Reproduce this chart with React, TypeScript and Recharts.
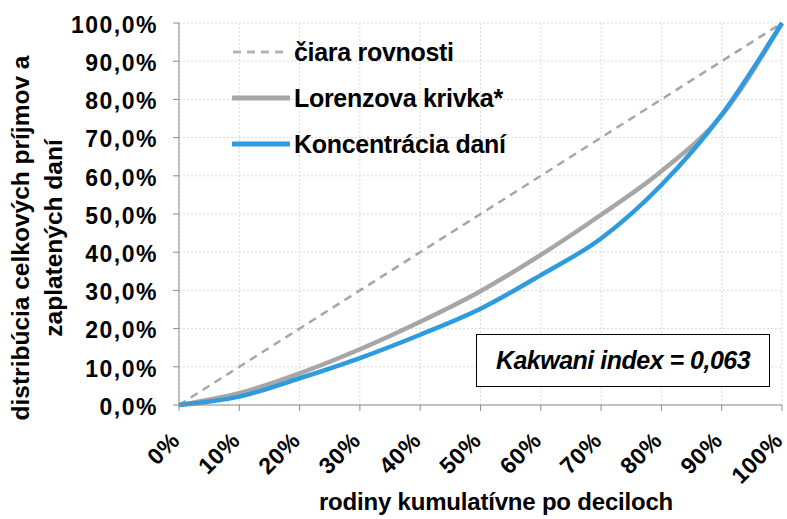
import { CartesianGrid, Line, LineChart, XAxis, YAxis } from "recharts";

const DECILES = [0, 10, 20, 30, 40, 50, 60, 70, 80, 90, 100];
const EQUALITY = [0, 10, 20, 30, 40, 50, 60, 70, 80, 90, 100];
const LORENZ = [0, 3.1, 8.3, 14.6, 21.8, 29.8, 39.3, 49.8, 61.2, 75.8, 100];
const TAX_CONCENTRATION = [0, 2.2, 7.0, 12.3, 18.4, 25.2, 34.0, 43.6, 57.6, 76.0, 100];
const Y_TICKS = [0, 10, 20, 30, 40, 50, 60, 70, 80, 90, 100];

const SERIES_NAMES = {
  equality: "čiara rovnosti",
  lorenz: "Lorenzova krivka*",
  tax: "Koncentrácia daní",
};

const GRAY = "#A6A6A6";
const BLUE = "#2F9BDF";
const AXIS = "#8C8C8C";
const FONT = '"Liberation Sans", Arial, sans-serif';

const data = DECILES.map((x, i) => ({
  x,
  equality: EQUALITY[i],
  lorenz: LORENZ[i],
  tax: TAX_CONCENTRATION[i],
}));

const legendItems = [
  { key: "equality", color: "#B4B4B4", dash: "8 6", width: 3 },
  { key: "lorenz", color: GRAY, dash: undefined, width: 5 },
  { key: "tax", color: BLUE, dash: undefined, width: 5 },
] as const;

function XTick({ x, y, payload }: any) {
  return (
    <text
      transform={`translate(${x + 2},${y + 29}) rotate(-45)`}
      textAnchor="end"
      fontFamily={FONT}
      fontWeight={700}
      fontSize={23}
      letterSpacing={0.5}
      fill="#000"
    >
      {`${payload.value}%`}
    </text>
  );
}

function YTick({ x, y, payload }: any) {
  return (
    <text
      x={x}
      y={y}
      dy="0.43em"
      textAnchor="end"
      fontFamily={FONT}
      fontWeight={700}
      fontSize={23}
      letterSpacing={1.5}
      fill="#000"
    >
      {`${payload.value.toFixed(1).replace(".", ",")}%`}
    </text>
  );
}

function LegendBox() {
  return (
    <div style={{ position: "absolute", left: 232, top: 29, fontFamily: FONT }}>
      {legendItems.map((item) => (
        <div key={item.key} style={{ display: "flex", alignItems: "center", height: 46 }}>
          <svg width={58} height={10} style={{ marginRight: 4 }}>
            <line
              x1={1}
              x2={57}
              y1={5}
              y2={5}
              stroke={item.color}
              strokeWidth={item.width}
              strokeDasharray={item.dash}
              strokeLinecap={item.dash ? "butt" : "round"}
            />
          </svg>
          <span style={{ fontWeight: 700, fontSize: 25, letterSpacing: -0.3, color: "#000" }}>
            {SERIES_NAMES[item.key]}
          </span>
        </div>
      ))}
    </div>
  );
}

export default function App() {
  return (
    <div style={{ position: "fixed", left: 0, top: 0, width: 787, height: 519, background: "#fff" }}>
      <LineChart width={787} height={519} data={data} margin={{ top: 23, right: 5, bottom: 0, left: 0 }}>
        <CartesianGrid stroke="#D9D9D9" strokeDasharray="2 2" />
        <XAxis
          type="number"
          dataKey="x"
          domain={[0, 100]}
          ticks={DECILES}
          interval={0}
          height={114}
          stroke={AXIS}
          tickSize={6}
          tick={<XTick />}
          label={{
            content: () => (
              <text
                x={496}
                y={510}
                textAnchor="middle"
                fontFamily={FONT}
                fontWeight={700}
                fontSize={24}
                letterSpacing={-0.2}
                fill="#000"
              >
                rodiny kumulatívne po deciloch
              </text>
            ),
          }}
        />
        <YAxis
          type="number"
          domain={[0, 100]}
          ticks={Y_TICKS}
          interval={0}
          width={179}
          stroke={AXIS}
          tickSize={6}
          tickMargin={15}
          tick={<YTick />}
          label={{
            content: () => (
              <g fontFamily={FONT} fontWeight={700} fontSize={24.5} fill="#000">
                <text transform="translate(29,238) rotate(-90)" textAnchor="middle">
                  distribúcia celkových príjmov a
                </text>
                <text transform="translate(62,238) rotate(-90)" textAnchor="middle">
                  zaplatených daní
                </text>
              </g>
            ),
          }}
        />
        <Line
          dataKey="equality"
          name={SERIES_NAMES.equality}
          type="linear"
          stroke={GRAY}
          strokeWidth={2.5}
          strokeDasharray="8 6"
          dot={false}
          activeDot={false}
          isAnimationActive={false}
        />
        <Line
          dataKey="lorenz"
          name={SERIES_NAMES.lorenz}
          type="monotone"
          stroke={GRAY}
          strokeWidth={4.5}
          dot={false}
          activeDot={false}
          isAnimationActive={false}
        />
        <Line
          dataKey="tax"
          name={SERIES_NAMES.tax}
          type="monotone"
          stroke={BLUE}
          strokeWidth={4.5}
          dot={false}
          activeDot={false}
          isAnimationActive={false}
        />
      </LineChart>
      <LegendBox />
      <div
        style={{
          position: "absolute",
          left: 476,
          top: 334,
          width: 294,
          height: 53,
          boxSizing: "border-box",
          border: "1.5px solid #000",
          background: "#fff",
          display: "flex",
          alignItems: "center",
          justifyContent: "center",
          fontFamily: FONT,
          fontWeight: 700,
          fontStyle: "italic",
          fontSize: 25,
          letterSpacing: -0.5,
          color: "#000",
        }}
      >
        Kakwani index = 0,063
      </div>
    </div>
  );
}
